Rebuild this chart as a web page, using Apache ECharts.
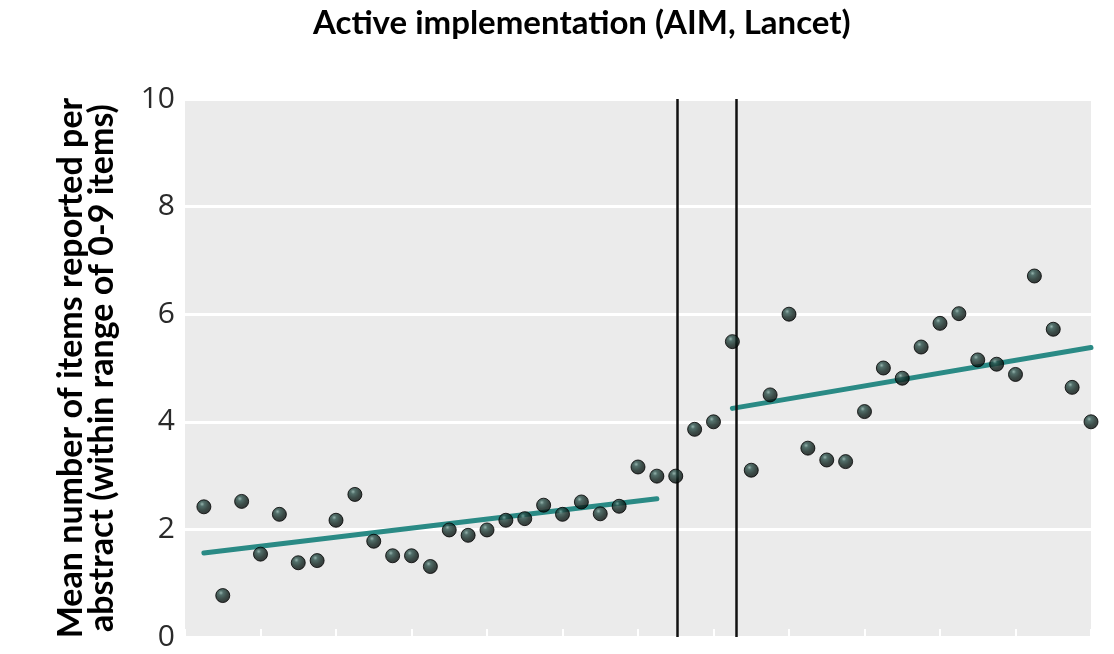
<!DOCTYPE html>
<html>
<head>
<meta charset="utf-8">
<script src="https://cdn.jsdelivr.net/npm/echarts@6/dist/echarts.min.js"></script>
<style>
  html, body { margin: 0; padding: 0; background: #ffffff; }
  #chart { width: 1114px; height: 654px; }
</style>
</head>
<body>
<div id="chart"></div>
<script>
// ---- Data ----
const titleText = 'Active implementation (AIM, Lancet)';
const yAxisTitle = 'Mean number of items reported per\nabstract (within range of 0-9 items)';
const periods = [1,2,3,4,5,6,7,8,9,10,11,12,13,14,15,16,17,18,19,20,21,22,23,24,
                 25,26,27,28,29,30,31,32,33,34,35,36,37,38,39,40,41,42,43,44,45,46,47,48];
const meanItems = [2.42,0.77,2.52,1.54,2.28,1.38,1.42,2.17,2.65,1.78,
                   1.51,1.51,1.31,1.99,1.89,1.99,2.17,2.20,2.45,2.28,
                   2.51,2.29,2.43,3.16,2.99,2.99,3.86,4.00,5.49,3.10,
                   4.50,6.00,3.51,3.29,3.26,4.19,5.00,4.81,5.39,5.83,
                   6.01,5.15,5.07,4.88,6.71,5.72,4.64,4.00];
const trendBeforeX = [1, 25];
const trendBeforeY = [1.56, 2.57];
const trendAfterX = [29, 48];
const trendAfterY = [4.25, 5.38];
const breakpoints = [26.1, 29.2];
const yTicks = [0, 2, 4, 6, 8, 10];

// ---- Chart ----
const chart = echarts.init(document.getElementById('chart'), null, { renderer: 'canvas' });

const pointData = periods.map((p, i) => [p, meanItems[i]]);
const trendBefore = trendBeforeX.map((x, i) => [x, trendBeforeY[i]]);
const trendAfter = trendAfterX.map((x, i) => [x, trendAfterY[i]]);

const ballColor = {
  type: 'radial', x: 0.38, y: 0.32, r: 0.7,
  colorStops: [
    { offset: 0, color: '#7fa59d' },
    { offset: 0.22, color: '#2b4f49' },
    { offset: 0.6, color: '#10241f' },
    { offset: 1, color: '#030807' }
  ]
};

chart.setOption({
  animation: false,
  backgroundColor: '#ffffff',
  title: {
    text: titleText,
    left: 308,
    top: 2,
    textStyle: { fontFamily: 'Lato', fontWeight: 'bold', fontSize: 33, color: '#000000' }
  },
  grid: {
    left: 185, right: 23, top: 99, bottom: 17,
    show: true, backgroundColor: '#ebebeb', borderWidth: 0
  },
  xAxis: {
    type: 'value', min: 0, max: 48, interval: 4,
    axisLine: { show: false },
    axisLabel: { show: false },
    axisTick: { show: true, inside: true, length: 8, lineStyle: { color: '#ffffff', width: 2 } },
    splitLine: { show: false }
  },
  yAxis: {
    type: 'value', min: yTicks[0], max: yTicks[yTicks.length - 1], interval: 2,
    name: yAxisTitle,
    nameLocation: 'middle',
    nameRotate: 90,
    nameGap: 67,
    nameTextStyle: { fontFamily: 'Lato', fontWeight: 'bold', fontSize: 34, color: '#000000', lineHeight: 31 },
    axisLine: { show: false },
    axisTick: { show: false },
    axisLabel: { fontFamily: 'Open Sans', fontSize: 30, color: '#2a2a2a', margin: 10 },
    splitLine: { show: true, lineStyle: { color: '#ffffff', width: 3 } }
  },
  series: [
    {
      type: 'line', data: trendBefore, symbol: 'none', silent: true, z: 2,
      lineStyle: { color: '#2a8a85', width: 5, cap: 'round' }
    },
    {
      type: 'line', data: trendAfter, symbol: 'none', silent: true, z: 2,
      lineStyle: { color: '#2a8a85', width: 5, cap: 'round' },
      markLine: {
        silent: true, symbol: 'none', label: { show: false },
        lineStyle: { color: '#111111', width: 2.5, type: 'solid' },
        data: breakpoints.map(b => ({ xAxis: b }))
      }
    },
    {
      type: 'scatter', data: pointData, symbol: 'circle', symbolSize: 14, z: 5, clip: false,
      itemStyle: { color: ballColor, borderColor: '#000000', borderWidth: 1 }
    }
  ]
});
</script>
</body>
</html>
